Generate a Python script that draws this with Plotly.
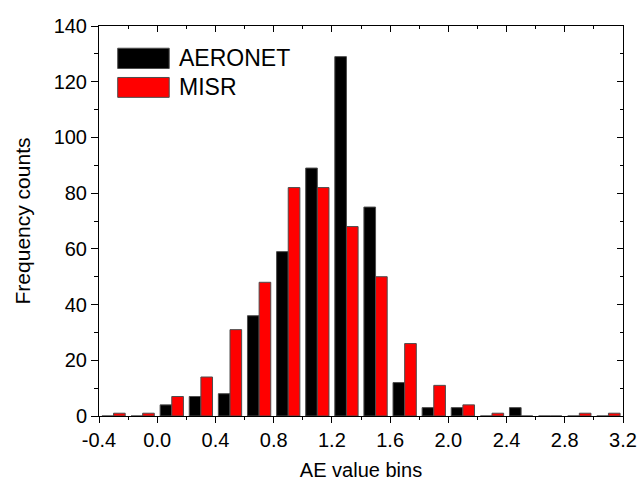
import plotly.graph_objects as go

bin_centers = [-0.3, -0.1, 0.1, 0.3, 0.5, 0.7, 0.9, 1.1, 1.3, 1.5, 1.7, 1.9, 2.1, 2.3, 2.5, 2.7, 2.9, 3.1]
aeronet = [0, 0, 4, 7, 8, 36, 59, 89, 129, 75, 12, 3, 3, 0, 3, 0, 0, 0]
misr = [1, 1, 7, 14, 31, 48, 82, 82, 68, 50, 26, 11, 4, 1, 0, 0, 1, 1]
series_names = ["AERONET", "MISR"]
series_colors = ["#000000", "#ff0000"]
x_tick_vals = [-0.4, 0.0, 0.4, 0.8, 1.2, 1.6, 2.0, 2.4, 2.8, 3.2]
x_tick_text = ["-0.4", "0.0", "0.4", "0.8", "1.2", "1.6", "2.0", "2.4", "2.8", "3.2"]

FONT = "Liberation Sans, Arial, sans-serif"

fig = go.Figure()
for name, vals, col in zip(series_names, [aeronet, misr], series_colors):
    fig.add_trace(go.Bar(x=bin_centers, y=vals, name=name,
                         marker=dict(color=col, line=dict(color="#4d4d4d", width=1)),
                         showlegend=False))
# dummy trace so mirrored (inward tick) axes are drawn
fig.add_trace(go.Scatter(x=[], y=[], xaxis="x2", yaxis="y2", showlegend=False))

axis_common = dict(showgrid=False, zeroline=False, linecolor="black", linewidth=1,
                   tickcolor="black", tickfont=dict(family=FONT, size=20, color="black"),
                   automargin=False)

fig.update_layout(
    width=640, height=482,
    margin=dict(l=99, r=17, t=26, b=66),
    paper_bgcolor="white", plot_bgcolor="white",
    barmode="group", bargap=0.2, bargroupgap=0,
    xaxis=dict(range=[-0.4, 3.2], tickmode="array", tickvals=x_tick_vals, ticktext=x_tick_text,
               ticks="outside", ticklen=6, showline=True,
               minor=dict(ticks="outside", ticklen=3, dtick=0.2, tick0=-0.4, tickcolor="black"),
               title=dict(text="AE value bins", font=dict(family=FONT, size=20, color="black"), standoff=12),
               **axis_common),
    yaxis=dict(range=[0, 140], tick0=0, dtick=20,
               ticks="outside", ticklen=7, showline=True,
               minor=dict(ticks="outside", ticklen=4, dtick=10, tickcolor="black"),
               title=dict(text="Frequency counts", font=dict(family=FONT, size=21, color="black"), standoff=17),
               **axis_common),
    xaxis2=dict(range=[-0.4, 3.2], overlaying="x", side="top", anchor="y2",
                tick0=-0.4, dtick=0.4, ticks="inside", ticklen=6, showticklabels=False,
                showline=True,
                minor=dict(ticks="inside", ticklen=3, dtick=0.2, tick0=-0.4, tickcolor="black"),
                **axis_common),
    yaxis2=dict(range=[0, 140], overlaying="y", side="right", anchor="x2",
                tick0=0, dtick=20, ticks="inside", ticklen=6, showticklabels=False,
                showline=True,
                minor=dict(ticks="inside", ticklen=3, dtick=10, tickcolor="black"),
                **axis_common),
)

# custom legend with large swatches (paper coords = plot area fractions)
legend_rows = [(0.943, 0.891), (0.868, 0.817)]
for (y1, y0), name, col in zip(legend_rows, series_names, series_colors):
    fig.add_shape(type="rect", xref="paper", yref="paper",
                  x0=0.0357, x1=0.134, y0=y0, y1=y1,
                  fillcolor=col, line=dict(color="#4d4d4d", width=1))
    fig.add_annotation(x=0.148, y=(y0 + y1) / 2, xref="paper", yref="paper", text=name,
                       showarrow=False, xanchor="left", yanchor="middle",
                       font=dict(family=FONT, size=23, color="black"))

fig.write_html("out.html")
